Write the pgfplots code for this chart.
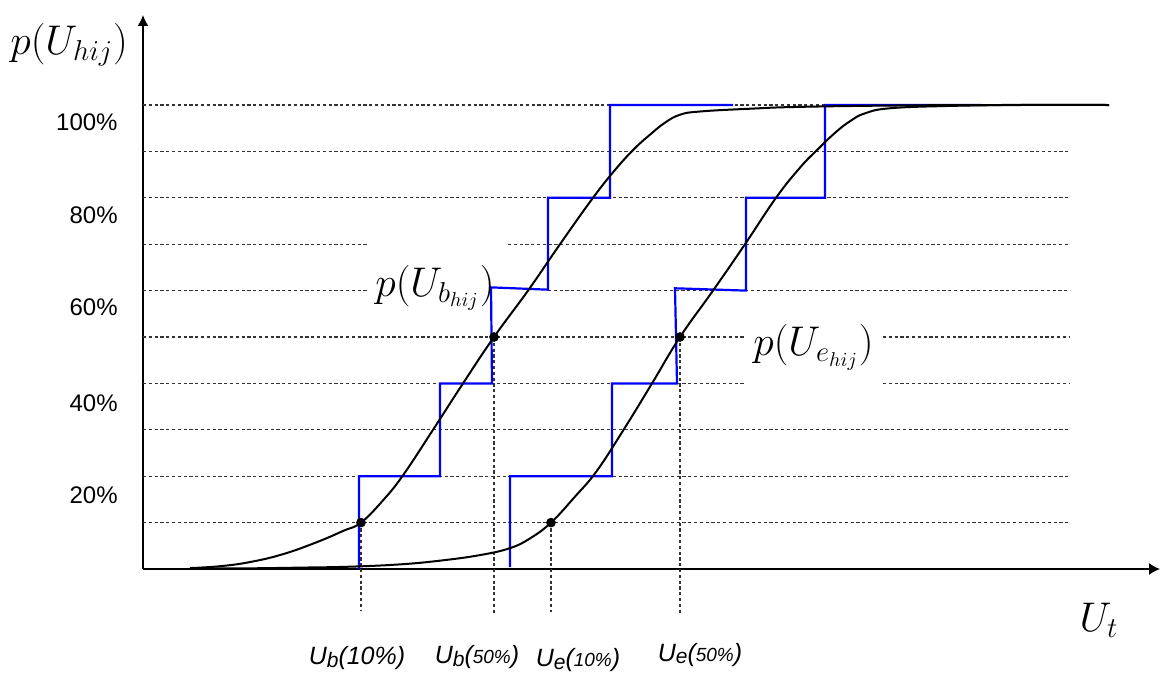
\documentclass[border=0pt]{standalone}
\usepackage{pgfplots}
\pgfplotsset{compat=1.18}
\usepackage{fontspec}
\setmainfont{Liberation Sans}
\usetikzlibrary{arrows.meta}
\pgfplotsset{gridl/.style={black!80, line width=0.55pt, dash pattern=on 1.6pt off 1.3pt}}
\begin{document}
\begin{tikzpicture}
\begin{axis}[
  x=0.5pt, y=2.32pt,
  xmin=143, xmax=1160, ymin=0, ymax=119.4,
  axis lines=left,
  axis line style={line width=0.75pt},
  x axis line style={-{Latex[length=5.5pt,width=6pt]}},
  y axis line style={-{Latex[length=5.5pt,width=5.5pt]}},
  xtick=\empty, ytick=\empty,
  clip=false,
]
\path (axis cs:0,-22.41) rectangle (axis cs:1161,122.63);
% horizontal grid
\addplot[gridl] coordinates {(143,100) (1070,100)};
\addplot[gridl] coordinates {(143,90) (1070,90)};
\addplot[gridl] coordinates {(143,80) (1070,80)};
\addplot[gridl] coordinates {(143,70) (368,70)};
\addplot[gridl] coordinates {(508,70) (1070,70)};
\addplot[gridl] coordinates {(143,60) (368,60)};
\addplot[gridl] coordinates {(548,60) (1070,60)};
\addplot[gridl] coordinates {(143,50) (745,50)};
\addplot[gridl] coordinates {(883,50) (1070,50)};
\addplot[gridl] coordinates {(143,40) (745,40)};
\addplot[gridl] coordinates {(883,40) (1070,40)};
\addplot[gridl] coordinates {(143,30) (1070,30)};
\addplot[gridl] coordinates {(143,20) (1070,20)};
\addplot[gridl] coordinates {(143,10) (1070,10)};
% vertical dashed
\addplot[gridl] coordinates {(361,10) (361,-8.8)};
\addplot[gridl] coordinates {(494,50) (494,-9.5)};
\addplot[gridl] coordinates {(551,10) (551,-9.3)};
\addplot[gridl] coordinates {(680,50) (680,-9.5)};
% blue steps
\addplot[blue, line width=1.1pt] coordinates {(359,0) (359,20) (440,20) (440,40) (492,40) (491,60.7) (548,60.2) (548,80) (610,80) (610,100) (733,100)};
\addplot[blue, line width=1.1pt] coordinates {(510,0.4) (510,20) (612,20) (612,40) (677,40) (675,60.5) (746,60) (746,80) (825,80) (825,100) (981,100)};
% CDF curves
\addplot[black, line width=1pt, smooth, tension=0.7] coordinates {(190,0.2) (220,0.6) (250,1.5) (283,3.2) (317,5.8) (343,8.2) (361,10) (383,14.8) (403,20.2) (433,30) (463,40) (494,50) (528,60) (560,70) (593,80) (615,86) (634,90.5) (650,93.6) (665,96.2) (680,97.9) (700,98.6) (750,99.2) (800,99.6) (900,99.9) (1000,100) (1109,100)};
\addplot[black, line width=1pt, smooth, tension=0.7] coordinates {(190,0.1) (250,0.15) (300,0.3) (350,0.5) (400,1.0) (440,1.8) (480,3.0) (510,4.5) (530,6.6) (551,10) (575,15.6) (597,21.2) (625,30.5) (652,40) (680,50) (713,60) (745,70) (776,80) (800,86.5) (818,90.5) (835,94) (850,96.5) (865,98.2) (890,99.3) (950,99.8) (1020,100) (1109,100)};
% dots
\addplot[only marks, mark=*, mark size=2.2pt, black] coordinates {(361,10) (494,50) (551,10) (680,50)};
% y labels
\node[anchor=east, inner sep=0] at (axis cs:118,96.3) {\fontsize{12}{14}\selectfont 100\%};
\node[anchor=east, inner sep=0] at (axis cs:118,76.3) {\fontsize{12}{14}\selectfont 80\%};
\node[anchor=east, inner sep=0] at (axis cs:118,56.5) {\fontsize{12}{14}\selectfont 60\%};
\node[anchor=east, inner sep=0] at (axis cs:118,35.8) {\fontsize{12}{14}\selectfont 40\%};
\node[anchor=east, inner sep=0] at (axis cs:118,15.9) {\fontsize{12}{14}\selectfont 20\%};
% math labels
\node[anchor=west, inner sep=0] at (axis cs:10,112.9) {\fontsize{20}{22}\selectfont $p(U_{hij})$};
\node[anchor=west, inner sep=0] at (axis cs:375,60.6) {\fontsize{20}{22}\selectfont $p(U_{b_{hij}})$};
\node[anchor=west, inner sep=0] at (axis cs:753,47.8) {\fontsize{20}{22}\selectfont $p(U_{e_{hij}})$};
\node[inner sep=0] at (axis cs:1099,-11) {\fontsize{20}{22}\selectfont $U_t$};
% bottom labels
\node[inner sep=0] at (axis cs:357,-19.2) {\fontsize{12.5}{14}\selectfont\itshape U\raisebox{-0.2ex}{\fontsize{10.5}{12}\selectfont b}(10\%)};
\node[inner sep=0] at (axis cs:477,-19.0) {\fontsize{12.5}{14}\selectfont\itshape U\raisebox{-0.2ex}{\fontsize{10.5}{12}\selectfont b}({\fontsize{9.5}{11}\selectfont 50\%})};
\node[inner sep=0] at (axis cs:578,-19.6) {\fontsize{12.5}{14}\selectfont\itshape U\raisebox{-0.2ex}{\fontsize{10.5}{12}\selectfont e}({\fontsize{9.5}{11}\selectfont 10\%})};
\node[inner sep=0] at (axis cs:700,-18.5) {\fontsize{12.5}{14}\selectfont\itshape U\raisebox{-0.2ex}{\fontsize{10.5}{12}\selectfont e}({\fontsize{9.5}{11}\selectfont 50\%})};
\end{axis}
\end{tikzpicture}
\end{document}
